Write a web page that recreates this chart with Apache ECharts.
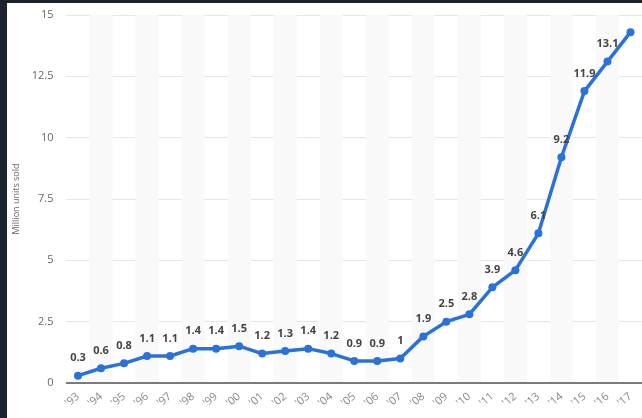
<!DOCTYPE html>
<html><head><meta charset="utf-8">
<script src="https://cdn.jsdelivr.net/npm/echarts@6/dist/echarts.min.js"></script>
<style>
html,body{margin:0;padding:0;background:#1b2230;width:642px;height:418px;overflow:hidden}
#c{position:absolute;left:7px;top:3px;width:635px;height:415px;background:#fff}
</style></head>
<body><div id="c"></div>
<script>
const categories = ["'93","'94","'95","'96","'97","'98","'99","'00","'01","'02","'03","'04","'05","'06","'07","'08","'09","'10","'11","'12","'13","'14","'15","'16","'17"];
const unitsSold = [0.3,0.6,0.8,1.1,1.1,1.4,1.4,1.5,1.2,1.3,1.4,1.2,0.9,0.9,1,1.9,2.5,2.8,3.9,4.6,6.1,9.2,11.9,13.1,14.3];
const yTicks = [0,2.5,5,7.5,10,12.5,15];
const yAxisName = 'Million units sold';

const chart = echarts.init(document.getElementById('c'), null, {renderer:'canvas'});
chart.setOption({
  animation:false,
  textStyle:{fontFamily:'Open Sans'},
  grid:{left:59.5,right:0,top:12,bottom:35,containLabel:false,outerBoundsMode:'none'},
  xAxis:{
    type:'category', data:categories, boundaryGap:true,
    axisLine:{lineStyle:{color:'#555',width:1.5}},
    axisTick:{show:false},
    axisLabel:{color:'#888',fontSize:11,rotate:40,margin:12,interval:0,fontFamily:'Open Sans'},
    splitArea:{show:true,interval:0,areaStyle:{color:['rgba(255,255,255,0)','#f9f9f9']}}
  },
  yAxis:{
    type:'value', min:yTicks[0], max:yTicks[yTicks.length-1], interval:2.5,
    name:yAxisName, nameLocation:'middle', nameGap:46,
    nameTextStyle:{color:'#666',fontSize:9,fontFamily:'Open Sans'},
    axisLine:{show:false}, axisTick:{show:false},
    axisLabel:{color:'#666',fontSize:11,margin:13,fontFamily:'Open Sans'},
    splitLine:{lineStyle:{color:'#ccc',type:'dotted',width:1}}
  },
  series:[{
    type:'line', data:unitsSold,
    symbol:'circle', symbolSize:8,
    lineStyle:{color:'#2a72d8',width:3.5},
    itemStyle:{color:'#2a72d8'},
    label:{show:true,position:'top',distance:8,color:'#444',fontWeight:'bold',fontSize:11,fontFamily:'Open Sans',
      formatter:p=>p.dataIndex===unitsSold.length-1?'':String(p.value)}
  }]
});
</script></body></html>
